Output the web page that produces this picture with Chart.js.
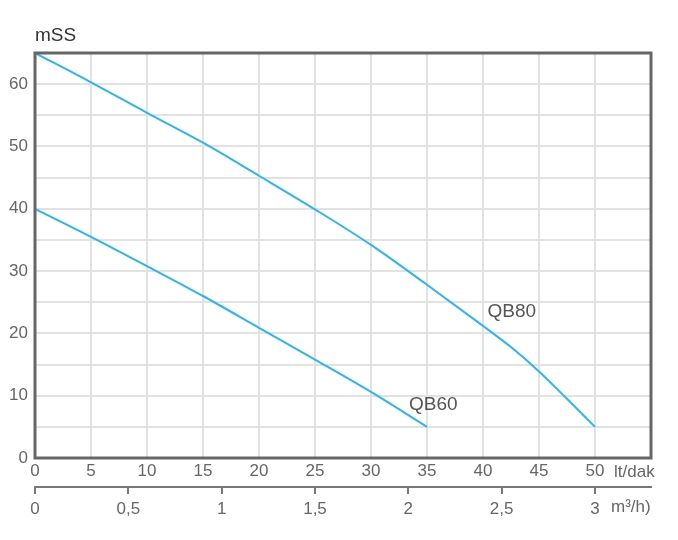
<!DOCTYPE html>
<html>
<head>
<meta charset="utf-8">
<script src="https://cdn.jsdelivr.net/npm/chart.js@4"></script>
<style>
  html, body { margin: 0; padding: 0; background: #fff; }
  #wrap { width: 678px; height: 540px; }
</style>
</head>
<body>
<div id="wrap"><canvas id="chart"></canvas></div>
<script>
  // pump curves: flow in lt/dak, head in mSS
  const qb80Flow = [0, 5, 10, 15, 20, 25, 30, 35, 40, 42.5, 45, 47.5, 50];
  const qb80Head = [65, 60.3, 55.4, 50.6, 45.3, 39.9, 34.2, 27.8, 21.2, 17.8, 13.9, 9.5, 5];
  const qb60Flow = [0, 5, 10, 15, 20, 25, 30, 35];
  const qb60Head = [40, 35.5, 30.8, 26.0, 20.9, 15.8, 10.6, 5];

  const flowTicks = [0, 5, 10, 15, 20, 25, 30, 35, 40, 45, 50];
  const headTicks = [0, 10, 20, 30, 40, 50, 60];
  const m3hTicks = [0, 0.5, 1, 1.5, 2, 2.5, 3];

  const LINE = '#2cb5ee';
  const TICK = '#666';
  const FONT = '"Liberation Sans", Arial, sans-serif';

  Chart.defaults.font.family = FONT;
  Chart.defaults.font.size = 17;
  Chart.defaults.color = TICK;

  const toPoints = (xs, ys) => xs.map((x, i) => ({ x, y: ys[i] }));

  const textPlugin = {
    id: 'texts',
    afterDraw(chart) {
      const { ctx, chartArea, scales } = chart;
      const x = scales.x, y = scales.y;
      ctx.save();

      ctx.strokeStyle = '#666';
      ctx.lineWidth = 3;
      ctx.strokeRect(chartArea.left, chartArea.top,
        chartArea.right - chartArea.left, chartArea.bottom - chartArea.top);

      ctx.textBaseline = 'middle';
      ctx.textAlign = 'left';
      ctx.fillStyle = '#333';
      ctx.font = '19px ' + FONT;
      ctx.fillText('mSS', chartArea.left, 36);

      ctx.fillStyle = '#555';
      ctx.fillText('QB80', x.getPixelForValue(40.4), y.getPixelForValue(23.4));
      ctx.fillText('QB60', x.getPixelForValue(33.4), y.getPixelForValue(8.5));

      ctx.fillStyle = TICK;
      ctx.font = '17px ' + FONT;
      ctx.fillText('lt/dak', 614, 472);
      ctx.fillText('m³/h)', 611, 507);
      ctx.restore();
    }
  };

  new Chart(document.getElementById('chart'), {
    type: 'line',
    data: {
      datasets: [{
        label: 'QB80',
        data: toPoints(qb80Flow, qb80Head),
        borderColor: LINE,
        borderWidth: 2,
        pointRadius: 0,
        cubicInterpolationMode: 'monotone'
      }, {
        label: 'QB60',
        data: toPoints(qb60Flow, qb60Head),
        borderColor: LINE,
        borderWidth: 2,
        pointRadius: 0,
        cubicInterpolationMode: 'monotone'
      }]
    },
    options: {
      responsive: true,
      maintainAspectRatio: false,
      animation: false,
      layout: { padding: { top: 53, right: 27, bottom: 9, left: 0 } },
      plugins: { legend: { display: false }, tooltip: { enabled: false } },
      scales: {
        x: {
          type: 'linear',
          position: 'bottom',
          min: 0,
          max: 55,
          afterBuildTicks: s => { s.ticks = flowTicks.concat([55]).map(v => ({ value: v })); },
          afterFit: s => { s.height = 29; },
          ticks: {
            padding: 3,
            maxRotation: 0,
            callback: v => flowTicks.includes(v) ? String(v) : ''
          },
          grid: { color: '#e2e2e2', lineWidth: 2, drawTicks: false },
          border: { display: false }
        },
        x2: {
          type: 'linear',
          position: 'bottom',
          min: 0,
          max: 3.3,
          afterBuildTicks: s => { s.ticks = m3hTicks.map(v => ({ value: v })); },
          afterFit: s => { s.height = 44; },
          ticks: {
            padding: 5,
            maxRotation: 0,
            callback: v => String(v).replace('.', ',')
          },
          grid: { drawOnChartArea: false, drawTicks: true, tickLength: 7, color: '#777', lineWidth: 2 },
          border: { display: true, color: '#777', width: 2 }
        },
        y: {
          type: 'linear',
          min: 0,
          max: 65,
          afterBuildTicks: s => {
            const t = [];
            for (let v = 0; v <= 65; v += 5) t.push({ value: v });
            s.ticks = t;
          },
          afterFit: s => { s.width = 35; },
          ticks: {
            padding: 7,
            callback: v => headTicks.includes(v) ? String(v) : ''
          },
          grid: { color: '#e2e2e2', lineWidth: 2, drawTicks: false },
          border: { display: false }
        }
      }
    },
    plugins: [textPlugin]
  });
</script>
</body>
</html>
